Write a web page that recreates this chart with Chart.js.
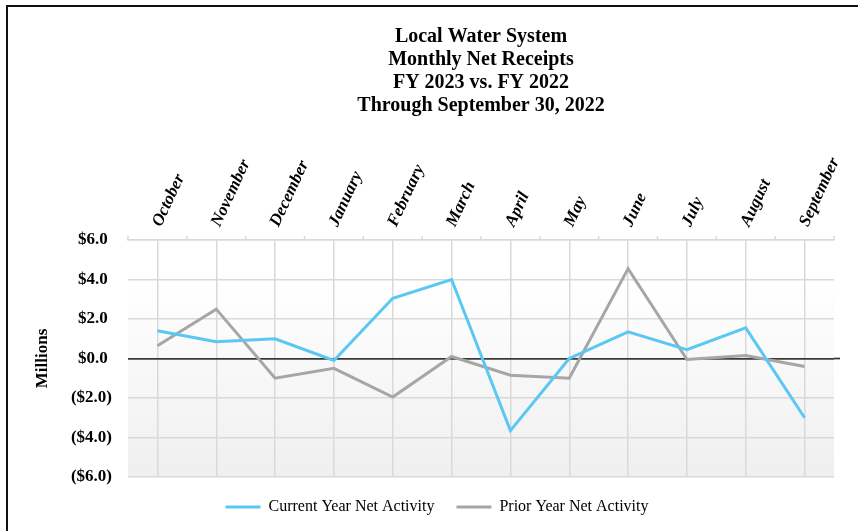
<!DOCTYPE html>
<html>
<head>
<meta charset="utf-8">
<script src="https://cdn.jsdelivr.net/npm/chart.js@4.4.0/dist/chart.umd.min.js"></script>
<style>
    body { margin: 0; background: #fff; }
    #wrap { position: relative; width: 858px; height: 531px; }
    #frame {
        position: absolute; left: 6px; top: 5px; right: 0; bottom: 0;
        border-left: 2px solid #111; border-top: 2px solid #111;
        pointer-events: none;
    }
</style>
</head>
<body>
<div id="wrap">
    <canvas id="netChart"></canvas>
    <div id="frame"></div>
</div>
<script>
// chart data
const titleLines = ["Local Water System", "Monthly Net Receipts", "FY 2023 vs. FY 2022", "Through September 30, 2022"];
const months = ["October", "November", "December", "January", "February", "March", "April", "May", "June", "July", "August", "September"];
const currentYear = [1.4, 0.85, 1.0, -0.1, 3.05, 4.0, -3.65, 0.0, 1.35, 0.45, 1.55, -3.0];
const priorYear = [0.65, 2.5, -1.0, -0.5, -1.95, 0.1, -0.85, -1.0, 4.55, -0.05, 0.15, -0.4];
const yMin = -6, yMax = 6, yStep = 2;

const serif = "'Liberation Serif', 'Times New Roman', serif";

// plot area shading, white at top fading to light gray
const plotShade = {
    id: "plotShade",
    beforeDraw(chart) {
        let a = chart.chartArea;
        let c = chart.ctx;
        let g = c.createLinearGradient(0, a.top, 0, a.bottom);
        g.addColorStop(0, "#ffffff");
        g.addColorStop(0.18, "#ffffff");
        g.addColorStop(1, "#efefef");
        c.save();
        c.fillStyle = g;
        c.fillRect(a.left, a.top, a.right - a.left, a.bottom - a.top);
        c.restore();
    }
};

// title lines, little tick marks between months, zero line stub past the plot
const extras = {
    id: "extras",
    afterDraw(chart) {
        let c = chart.ctx;
        let a = chart.chartArea;
        let x = chart.scales.x;
        let y = chart.scales.y;
        c.save();
        c.fillStyle = "#000";
        c.font = "bold 20px " + serif;
        c.textAlign = "center";
        c.textBaseline = "middle";
        let cx = (a.left + a.right) / 2;
        titleLines.forEach((t, i) => c.fillText(t, cx, 37 + i * 23));

        c.strokeStyle = "#d9d9d9";
        c.lineWidth = 1.5;
        let half = (x.getPixelForValue(1) - x.getPixelForValue(0)) / 2;
        for (let i = 0; i <= months.length; i++) {
            let px = x.getPixelForValue(0) - half + i * half * 2;
            c.beginPath();
            c.moveTo(px, a.top);
            c.lineTo(px, a.top - 4);
            c.stroke();
        }

        let zy = y.getPixelForValue(0);
        c.strokeStyle = "#3a3a3a";
        c.lineWidth = 1.8;
        c.beginPath();
        c.moveTo(a.right, zy);
        c.lineTo(a.right + 6, zy);
        c.stroke();
        c.restore();
    }
};

let ctx = document.getElementById("netChart").getContext("2d");

let chart = new Chart(ctx, {
    type: "line",
    data: {
        labels: months,
        datasets: [
            {
                label: "Current Year Net Activity",
                data: currentYear,
                borderColor: "#5ac8f2",
                backgroundColor: "#5ac8f2",
                borderWidth: 3,
                pointRadius: 0,
                tension: 0
            },
            {
                label: "Prior Year Net Activity",
                data: priorYear,
                borderColor: "#a6a6a6",
                backgroundColor: "#a6a6a6",
                borderWidth: 3,
                pointRadius: 0,
                tension: 0
            }
        ]
    },
    options: {
        responsive: true,
        maintainAspectRatio: false,
        animation: false,
        layout: { padding: { left: 40, right: 24, top: 0, bottom: 6 } },
        plugins: {
            title: { display: false },
            tooltip: { enabled: false },
            legend: {
                position: "bottom",
                labels: {
                    usePointStyle: true,
                    pointStyle: "line",
                    pointStyleWidth: 35,
                    padding: 22,
                    color: "#000",
                    font: { family: serif, size: 16 }
                }
            }
        },
        scales: {
            x: {
                position: "top",
                offset: true,
                afterFit: s => { s.height = 240; },
                grid: {
                    offset: false,
                    color: "#d9d9d9",
                    lineWidth: 1.5,
                    drawTicks: false
                },
                border: { color: "#d9d9d9", width: 1.5 },
                ticks: {
                    autoSkip: false,
                    minRotation: 65,
                    maxRotation: 65,
                    padding: 10,
                    labelOffset: 18,
                    color: "#000",
                    font: { family: serif, size: 17, weight: "bold", style: "italic" }
                }
            },
            y: {
                min: yMin,
                max: yMax,
                afterFit: s => { s.width = 88; },
                grid: {
                    drawTicks: false,
                    color: c => c.tick.value === 0 ? "#3a3a3a" : "#d9d9d9",
                    lineWidth: c => c.tick.value === 0 ? 1.8 : 1.5
                },
                border: { display: false },
                title: {
                    display: true,
                    text: "Millions",
                    color: "#000",
                    padding: { top: -8 },
                    font: { family: serif, size: 17, weight: "bold" }
                },
                ticks: {
                    stepSize: yStep,
                    padding: 16,
                    color: "#000",
                    font: { family: serif, size: 17, weight: "bold" },
                    callback: v => v < 0 ? "($" + Math.abs(v).toFixed(1) + ")" : "$" + v.toFixed(1) + " "
                }
            }
        }
    },
    plugins: [plotShade, extras]
});
</script>
</body>
</html>
